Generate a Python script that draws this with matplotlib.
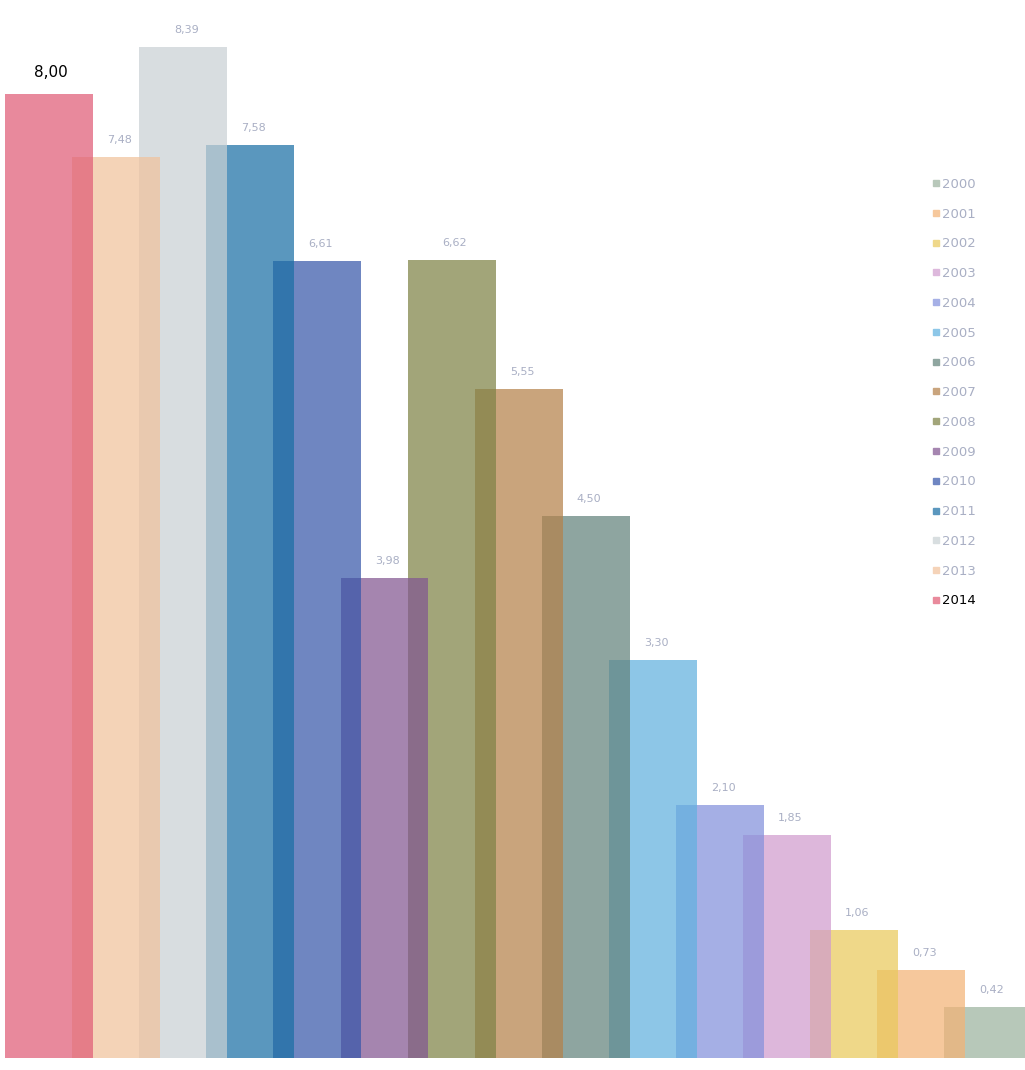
import matplotlib.pyplot as plt
from matplotlib.lines import Line2D
from matplotlib.colors import to_rgb

# bars go left to right from 2014 down to 2000
years = ['2014', '2013', '2012', '2011', '2010', '2009', '2008', '2007',
         '2006', '2005', '2004', '2003', '2002', '2001', '2000']
values = [8.00, 7.48, 8.39, 7.58, 6.61, 3.98, 6.62, 5.55,
          4.50, 3.30, 2.10, 1.85, 1.06, 0.73, 0.42]
# colour each bar shows over white paper
seen = ['#E98A9C', '#F5D3B8', '#D8DEE0', '#5B97BE', '#6F86C2', '#A585B0',
        '#A2A57A', '#C9A47D', '#8FA6A0', '#8DC7E8', '#A6B0E6', '#DDB8DC',
        '#EFD88A', '#F6C89C', '#B8C8BA']

alpha = 0.72
label_grey = '#A9AFC4'


def base_colour(c):
    # undo the white background so overlaps come out darker
    rgb = to_rgb(c)
    return tuple(min(1, max(0, (v - (1 - alpha)) / alpha)) for v in rgb) + (alpha,)


fig = plt.figure(figsize=(10.25, 10.7), dpi=100)
ax = fig.add_axes([0, 0, 1, 1])

x = list(range(len(years)))
for i in range(len(years)):
    ax.bar(x[i], values[i], width=1.31, color=base_colour(seen[i]),
           zorder=len(years) - i)
    txt = f'{values[i]:.2f}'.replace('.', ',')
    if years[i] == '2014':
        ax.text(x[i] + 0.03, values[i] + 0.12, txt, ha='center', va='bottom',
                fontsize=11, color='black', family='DejaVu Sans')
    else:
        ax.text(x[i] + 0.05, values[i] + 0.1, txt, ha='center', va='bottom',
                fontsize=8, color=label_grey, family='DejaVu Sans')

ax.set_xlim(-0.730, 14.545)
ax.set_ylim(-0.0996, 8.78)
ax.axis('off')

# legend: 2000 on top, 2014 at the bottom
handles = []
for yr in years[::-1]:
    c = seen[years.index(yr)]
    handles.append(Line2D([], [], marker='s', linestyle='none', markersize=4,
                          markerfacecolor=c, markeredgecolor=c, label=yr))
leg = fig.legend(handles=handles, loc='upper left',
                 bbox_to_anchor=(0.904, 0.840), frameon=False, fontsize=9.5,
                 labelspacing=1.27, handlelength=0.5, handletextpad=0.2,
                 borderpad=0)
for t in leg.get_texts():
    t.set_color('black' if t.get_text() == '2014' else label_grey)

plt.savefig('out.png', dpi=100)
